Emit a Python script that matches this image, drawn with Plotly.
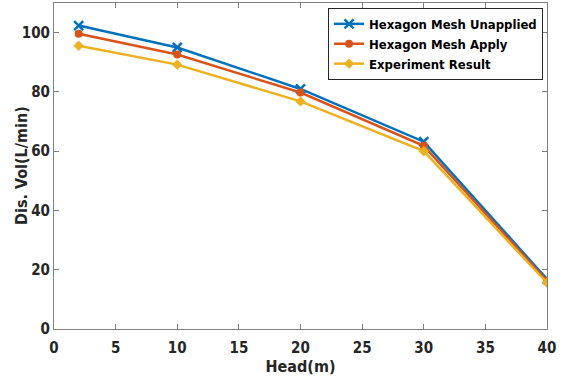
import plotly.graph_objects as go

head = [2, 10, 20, 30, 40]
unapplied = [102.4, 95.0, 81.0, 63.2, 16.8]
apply_ = [99.6, 92.6, 79.8, 61.8, 16.2]
experiment = [95.6, 89.2, 76.8, 60.0, 15.6]

names = ["Hexagon Mesh Unapplied", "Hexagon Mesh Apply", "Experiment Result"]
colors = ["#0072BD", "#D95319", "#EDB120"]
symbols = ["x-thin-open", "circle", "diamond"]
font_family = "DejaVu Sans Condensed, Liberation Sans Narrow, Arial Narrow, sans-serif"

fig = go.Figure()
for name, ys, c, s in zip(names, [unapplied, apply_, experiment], colors, symbols):
    fig.add_trace(go.Scatter(
        x=head, y=ys, name=name, mode="lines+markers",
        line=dict(color=c, width=2.5),
        marker=dict(symbol=s, size=8 if s != "x-thin-open" else 9, color=c,
                    line=dict(color=c, width=2.5 if s == "x-thin-open" else 0)),
    ))

axis_common = dict(
    showline=True, linecolor="#7f7f7f", linewidth=1, mirror="ticks",
    ticks="inside", ticklen=5, tickcolor="#7f7f7f", showgrid=False, zeroline=False,
    tickfont=dict(family=font_family, size=15, color="#262626", weight="bold"),
)
fig.update_layout(
    width=562, height=380,
    margin=dict(l=54, r=15, t=3, b=51),
    paper_bgcolor="white", plot_bgcolor="white",
    font=dict(family=font_family, size=15, color="#262626"),
    xaxis=dict(range=[0, 40], dtick=5, ticklabelstandoff=5,
               title=dict(text="Head(m)", font=dict(size=16, weight="bold"), standoff=2),
               **axis_common),
    yaxis=dict(range=[0, 110], tickvals=[0, 20, 40, 60, 80, 100],
               **axis_common),
    legend=dict(x=0.992, y=0.985, xanchor="right", yanchor="top",
                bgcolor="white", bordercolor="#262626", borderwidth=1,
                font=dict(size=13, family=font_family, color="black", weight="bold"),
                itemwidth=30, tracegroupgap=0),
    showlegend=True,
    annotations=[dict(
        text="Dis. Vol(L/min)", textangle=-90, showarrow=False,
        xref="paper", yref="paper", x=0, y=0.5, xanchor="center", yanchor="middle",
        xshift=-33, font=dict(size=16, weight="bold", family=font_family, color="#262626"),
    )],
)
fig.write_html("out.html")
